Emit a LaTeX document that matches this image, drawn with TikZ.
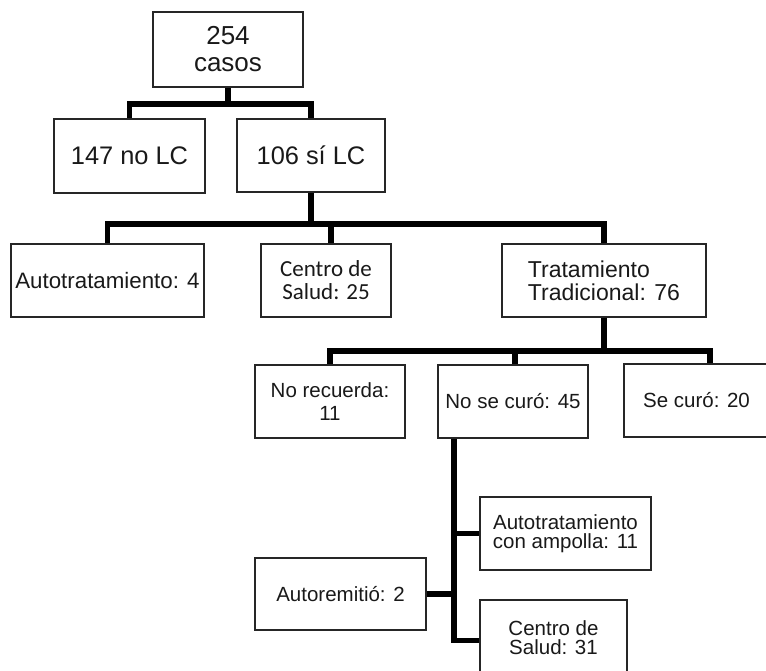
\documentclass[tikz,border=0pt]{standalone}
\usepackage{fontspec}
\setmainfont{Liberation Sans}
\newfontfamily\calibri{Carlito}
\usetikzlibrary{positioning}

\begin{document}
\begin{tikzpicture}[x=1pt,y=-1pt,
    box/.style={rectangle,draw=black!85,line width=1.8pt,inner sep=0pt,align=center,
      text=black!90,font=\fontsize{20.5}{23}\selectfont},
    conn/.style={draw=black,line width=5.5pt}]
  \useasboundingbox (0,0) rectangle (766,671);
  % level 1 and 2
  \node[box,minimum width=150pt,minimum height=75pt,font=\fontsize{26}{27}\selectfont] (casos) at (228,49.5) {254\\casos};
  \node[box,minimum width=151pt,minimum height=74pt,font=\fontsize{25.4}{27}\selectfont] (nolc) at (129.5,156) {147 no LC};
  \node[box,minimum width=148pt,minimum height=73pt,font=\fontsize{25.4}{27}\selectfont] (silc) at (311,155.5) {106 sí LC};
  % level 3
  \node[box,minimum width=193pt,minimum height=73pt,font=\fontsize{22.3}{24}\selectfont] (auto4) at (107.5,280.5) {Autotratamiento: 4};
  \node[box,minimum width=130pt,minimum height=73pt,font=\calibri\fontsize{23}{23}\selectfont] (csal25) at (326,280.5) {Centro de\\Salud: 25};
  \node[box,minimum width=204pt,minimum height=73pt,align=left,font=\fontsize{23}{23}\selectfont] (trad) at (604,280.5) {Tratamiento\\Tradicional: 76};
  % level 4
  \node[box,minimum width=150pt,minimum height=73pt] (norec) at (330,401.5) {No recuerda:\\11};
  \node[box,minimum width=150pt,minimum height=73pt] (nocuro) at (513,401.5) {No se curó: 45};
  \node[box,minimum width=145pt,minimum height=73pt] (securo) at (696.5,400.5) {Se curó: 20};
  % level 5
  \node[box,minimum width=171pt,minimum height=73pt,font=\fontsize{20.5}{19.5}\selectfont] (ampolla) at (565.5,533.5) {Autotratamiento\\con ampolla: 11};
  \node[box,minimum width=171pt,minimum height=72pt] (autorem) at (340.5,594) {Autoremitió: 2};
  \node[box,minimum width=147pt,minimum height=75pt,font=\fontsize{20.5}{19.5}\selectfont] (csal31) at (553.5,637.5) {Centro de\\Salud: 31};

  \draw[conn] (casos.south) -- ++(0,16) -| (nolc.north);
  \draw[conn] (casos.south) -- ++(0,16) -| (silc.north);
  \draw[conn] (silc.south) -- ++(0,31) -| (auto4.north);
  \draw[conn] (silc.south) -- ++(0,31) -| ([xshift=5pt]csal25.north);
  \draw[conn] (silc.south) -- ++(0,31) -| (trad.north);
  \draw[conn] (trad.south) -- ++(0,33) -| (norec.north);
  \draw[conn] (trad.south) -- ++(0,33) -| ([xshift=2pt]nocuro.north);
  \draw[conn] (trad.south) -- ++(0,33) -| ([xshift=13.5pt]securo.north);
  \coordinate (trunk) at ([xshift=-59pt]nocuro.south);
  \draw[conn] (trunk) |- ([yshift=-3pt]csal31.west);
  \draw[conn] (ampolla.west) -- (ampolla.west -| trunk);
  \draw[conn] (autorem.east) -- (autorem.east -| trunk);
\end{tikzpicture}
\end{document}
